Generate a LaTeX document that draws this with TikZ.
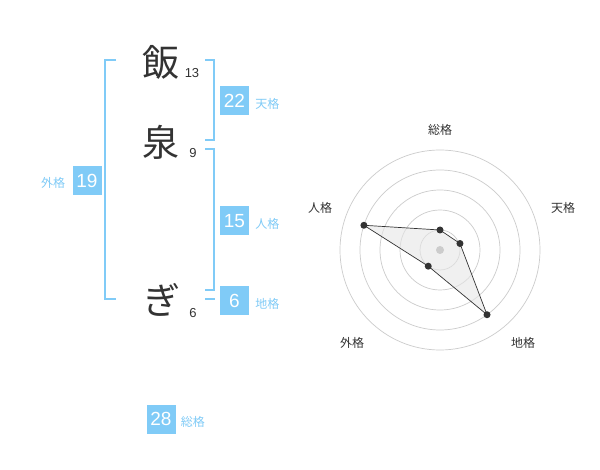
\documentclass[tikz,border=0pt]{standalone}
\usepackage{fontspec}
\setmainfont{Liberation Sans}
\newfontfamily\jpfont{Noto Sans CJK JP}
\usetikzlibrary{positioning, calc}
\definecolor{ink}{HTML}{333333}
\definecolor{sky}{HTML}{80CBF7}
\definecolor{ringgray}{HTML}{CCCCCC}
\definecolor{polyfill}{HTML}{E6E6E6}

\begin{document}
\begin{tikzpicture}[x=1pt, y=-1pt]
  % Styles
  \tikzset{
    kanji/.style={font=\jpfont\fontsize{37}{37}\selectfont, text=ink, inner sep=0pt},
    strokes/.style={font=\fontsize{13}{13}\selectfont, text=ink, inner sep=0pt},
    score/.style={fill=sky, text=white, minimum size=29pt, inner sep=0pt, font=\fontsize{19}{19}\selectfont},
    kaku/.style={text=sky, font=\jpfont\fontsize{12}{12}\selectfont, inner sep=0pt},
    bracket/.style={draw=sky, line width=1.6pt},
    ring/.style={draw=ringgray, line width=0.7pt},
    axis/.style={text=ink, font=\jpfont\fontsize{12}{12}\selectfont, inner sep=0pt},
    dot/.style={circle, fill=ink, inner sep=0pt, minimum size=7pt},
    poly/.style={fill=polyfill, fill opacity=0.6, draw=ink, line width=0.7pt}
  }

  \fill[white] (0,0) rectangle (600,470);
  \useasboundingbox (0,0) rectangle (600,470);

  % Name
  \node[kanji] (c1) at (161,62) {飯};
  \node[kanji] (c2) at (161,142) {泉};
  \node[kanji] (c3) at (162,300) {ぎ};
  \node[strokes] (s1) at (192,73) {13};
  \node[strokes] (s2) at (193,153) {9};
  \node[strokes] (s3) at (193,313) {6};

  % Brackets
  \draw[bracket] (116,60) -- (105,60) -- (105,299) -- (116,299);
  \draw[bracket] (205,60) -- (214,60) -- (214,140) -- (205,140);
  \draw[bracket] (205,149) -- (214,149) -- (214,290) -- (205,290);
  \draw[bracket] (205,299) -- (215,299);

  % Scores
  \node[score] (gai) at (87,181) {19};
  \node[kaku, left=7pt of gai, yshift=-2pt] {外格};
  \node[score] (ten) at (234.5,100.5) {22};
  \node[kaku, right=6pt of ten, yshift=-3pt] {天格};
  \node[score] (jin) at (234.5,221) {15};
  \node[kaku, right=6pt of jin, yshift=-3pt] {人格};
  \node[score] (chi) at (234.5,300.5) {6};
  \node[kaku, right=6pt of chi, yshift=-3pt] {地格};
  \node[score] (sou) at (161,419) {28};
  \node[kaku, right=5pt of sou, yshift=-3pt] {総格};

  % Radar
  \begin{scope}[shift={(440,250)}, y=1pt]
    \foreach \r in {20,40,...,100}
      \draw[ring] (0,0) circle[radius=\r];

    \node[axis] at (0,120) {総格};
    \node[axis] at (123,42) {天格};
    \node[axis] at (83,-93) {地格};
    \node[axis] at (-88,-93) {外格};
    \node[axis] at (-120,42) {人格};

    \coordinate (p-sou) at (90:20);
    \coordinate (p-ten) at (18:21);
    \coordinate (p-chi) at (-54:80);
    \coordinate (p-gai) at (-126:20);
    \coordinate (p-jin) at (162:80);
    \filldraw[poly] (p-sou) -- (p-ten) -- (p-chi) -- (p-gai) -- (p-jin) -- cycle;
    \fill[ringgray] (0,0) circle[radius=4];
    \foreach \p in {sou,ten,chi,gai,jin}
      \node[dot] (d-\p) at (p-\p) {};
  \end{scope}
\end{tikzpicture}
\end{document}
